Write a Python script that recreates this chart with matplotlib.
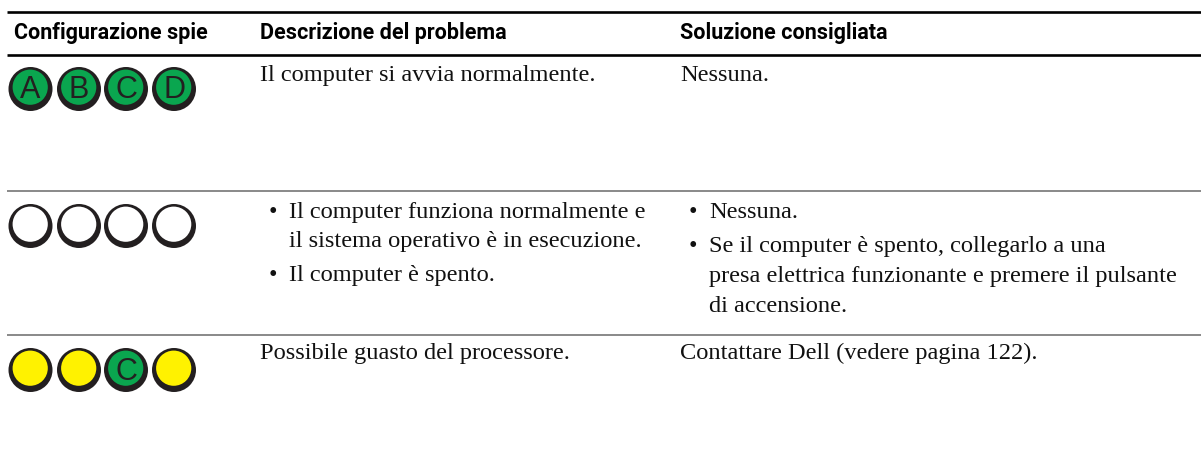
import matplotlib
matplotlib.use("Agg")
import matplotlib.pyplot as plt
from matplotlib.patches import Circle

# table contents
headers = ["Configurazione spie", "Descrizione del problema", "Soluzione consigliata"]
row_states = [["A", "B", "C", "D"], ["", "", "", ""], ["y", "y", "C", "y"]]
col2_text = [
    ["Il computer si avvia normalmente."],
    ["•", "Il computer funziona normalmente e", "il sistema operativo è in esecuzione.",
     "•", "Il computer è spento."],
    ["Possibile guasto del processore."],
]
col3_text = [
    ["Nessuna."],
    ["•", "Nessuna.", "•", "Se il computer è spento, collegarlo a una",
     "presa elettrica funzionante e premere il pulsante", "di accensione."],
    ["Contattare Dell (vedere pagina 122)."],
]

GREEN = "#0aa64f"
YELLOW = "#fff200"
DARK = "#231f20"

fig = plt.figure(figsize=(12.01, 4.66), dpi=100)
ax = fig.add_axes([0, 0, 1, 1])
ax.set_xlim(0, 1201)
ax.set_ylim(466, 0)
ax.axis("off")

# rules
ax.plot([7, 1201], [12, 12], color="black", lw=1.9, solid_capstyle="butt")
ax.plot([7, 1201], [54.5, 54.5], color="black", lw=1.9, solid_capstyle="butt")
ax.plot([7, 1201], [191, 191], color="#808080", lw=1.3, solid_capstyle="butt")
ax.plot([7, 1201], [335, 335], color="#808080", lw=1.3, solid_capstyle="butt")

# headers
for x, h in zip([14, 260, 680], headers):
    ax.text(x, 38.5, h, family="Roboto", weight="bold", fontsize=15.5,
            va="baseline", ha="left", color="black")

# lamps
lamp_x = [30.5, 79, 126, 174]
lamp_y = [89, 226, 370]
for cy, states in zip(lamp_y, row_states):
    for cx, s in zip(lamp_x, states):
        ax.add_patch(Circle((cx, cy), 22, fc=DARK, ec="none"))
        if s == "":
            fill = "white"
        elif s == "y":
            fill = YELLOW
        else:
            fill = GREEN
        ax.add_patch(Circle((cx - 0.3, cy - 1.8), 17.6, fc=fill, ec="none"))
        if s not in ("", "y"):
            ax.text(cx, cy - 2, s, family="Liberation Sans", fontsize=22,
                    color=DARK, ha="center", va="center_baseline")


def body(x, y, s, ha="left"):
    ax.text(x, y, s, family="Liberation Serif", fontsize=17.6, color="#111111",
            va="baseline", ha=ha)


# column 2
body(260, 81, col2_text[0][0])
body(272.5, 218, col2_text[1][0], ha="center")
body(289, 218, col2_text[1][1])
body(289, 247, col2_text[1][2])
body(272.5, 281, col2_text[1][3], ha="center")
body(289, 281, col2_text[1][4])
body(260, 359, col2_text[2][0])

# column 3
body(680, 81, col3_text[0][0])
body(692.5, 218, col3_text[1][0], ha="center")
body(709, 218, col3_text[1][1])
body(692.5, 252, col3_text[1][2], ha="center")
body(709, 252, col3_text[1][3])
body(709, 282, col3_text[1][4])
body(709, 312, col3_text[1][5])
body(680, 359, col3_text[2][0])

fig.savefig("out.png", dpi=100)
